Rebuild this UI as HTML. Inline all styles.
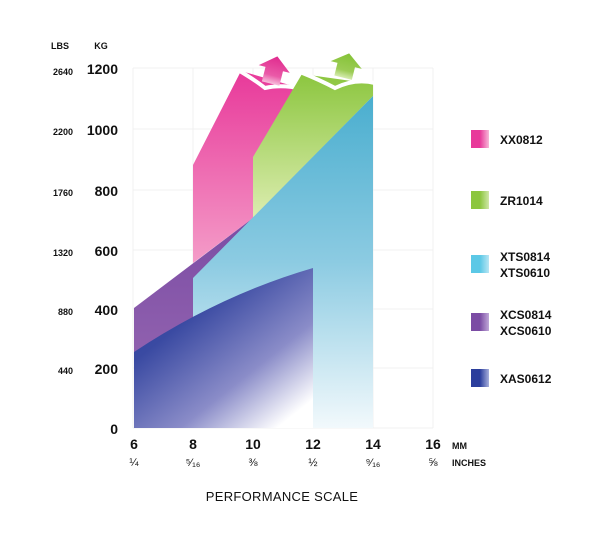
<!DOCTYPE html>
<html><head><meta charset="utf-8"><style>
html,body{margin:0;padding:0;background:#fff;}
svg{display:block;font-family:"Liberation Sans",sans-serif;}
</style></head><body>
<svg width="612" height="539" viewBox="0 0 612 539">
<defs>
<linearGradient id="gb" x1="0" y1="0.1" x2="0.8" y2="1"><stop offset="0" stop-color="#2b3e9c"/><stop offset="0.3" stop-color="#3a4aa2"/><stop offset="0.7" stop-color="#8a8cc8"/><stop offset="1" stop-color="#ffffff"/></linearGradient>
<linearGradient id="gt" x1="0" y1="0" x2="0" y2="1"><stop offset="0" stop-color="#4aaecf"/><stop offset="0.5" stop-color="#8ccbe2"/><stop offset="1" stop-color="#f2f9fc"/></linearGradient>
<linearGradient id="gp" x1="0" y1="0" x2="0" y2="1"><stop offset="0" stop-color="#7b4ca4"/><stop offset="1" stop-color="#9b6cb4"/></linearGradient>
<linearGradient id="gk" x1="0" y1="0" x2="0" y2="1"><stop offset="0" stop-color="#e8399a"/><stop offset="1" stop-color="#f49cc8"/></linearGradient>
<linearGradient id="gg" x1="0" y1="0" x2="0" y2="1"><stop offset="0" stop-color="#8cc63f"/><stop offset="1" stop-color="#dcedb0"/></linearGradient>
<linearGradient id="ak" x1="0" y1="0" x2="0" y2="1"><stop offset="0" stop-color="#e02a8e"/><stop offset="0.7" stop-color="#ea5aa8"/><stop offset="1" stop-color="#f7c0dc"/></linearGradient>
<linearGradient id="ag" x1="0" y1="0" x2="0" y2="1"><stop offset="0" stop-color="#84c236"/><stop offset="0.7" stop-color="#9ccc55"/><stop offset="1" stop-color="#d6ecb0"/></linearGradient>
<linearGradient id="lk" x1="0" x2="1"><stop offset="0.5" stop-color="#e8399a"/><stop offset="1" stop-color="#f7b8d8"/></linearGradient>
<linearGradient id="lg" x1="0" x2="1"><stop offset="0.5" stop-color="#8cc63f"/><stop offset="1" stop-color="#d0e8a8"/></linearGradient>
<linearGradient id="lt" x1="0" x2="1"><stop offset="0.5" stop-color="#5bc8e6"/><stop offset="1" stop-color="#b8e6f4"/></linearGradient>
<linearGradient id="lp" x1="0" x2="1"><stop offset="0.5" stop-color="#7b4ca4"/><stop offset="1" stop-color="#c0a8d8"/></linearGradient>
<linearGradient id="lb" x1="0" x2="1"><stop offset="0.5" stop-color="#2b3e9c"/><stop offset="1" stop-color="#a8b0dc"/></linearGradient>
</defs>
<g stroke="#f0f0f0" stroke-width="1">
<line x1="133" y1="68" x2="433" y2="68"/><line x1="133" y1="129" x2="433" y2="129"/><line x1="133" y1="190" x2="433" y2="190"/><line x1="133" y1="250" x2="433" y2="250"/><line x1="133" y1="309" x2="433" y2="309"/><line x1="133" y1="368" x2="433" y2="368"/><line x1="133" y1="428" x2="433" y2="428"/>
<line x1="133" y1="68" x2="133" y2="428"/><line x1="193" y1="68" x2="193" y2="428"/><line x1="253" y1="68" x2="253" y2="428"/><line x1="313" y1="68" x2="313" y2="428"/><line x1="373" y1="68" x2="373" y2="428"/><line x1="433" y1="68" x2="433" y2="428"/>
</g>
<polygon points="193,165 241,71 300,88 300,230 253,218 193,263" fill="url(#gk)"/>
<path d="M238,70 Q255,80 265,88 Q282,84 302,89" fill="none" stroke="#fff" stroke-width="4"/>
<polygon points="253,157 302,74 373,84 373,96 253,218" fill="url(#gg)"/>
<path d="M300,72 Q320,80 335,88 Q355,78 375,83" fill="none" stroke="#fff" stroke-width="4"/>
<g transform="rotate(14 274 70)"><polygon points="274,56 290,69 283,69 283,84 265,84 265,69 258,69" fill="url(#ak)"/></g>
<g transform="rotate(14 346 66)"><polygon points="346,53 362,65 355,65 355,78 337,78 337,65 330,65" fill="url(#ag)"/></g>
<polygon points="134,308 253,218 253,428 134,428" fill="url(#gp)"/>
<polygon points="193,278 373,96 373,428 193,428" fill="url(#gt)"/>
<path d="M134,352 Q220,295 313,268 L313,428 L134,428 Z" fill="url(#gb)"/>
<g font-weight="bold" fill="#111">
<text x="60" y="49" font-size="9" text-anchor="middle">LBS</text><text x="101" y="49" font-size="9" text-anchor="middle">KG</text>
<g font-size="9" text-anchor="end"><text x="73" y="75">2640</text><text x="73" y="135">2200</text><text x="73" y="196">1760</text><text x="73" y="256">1320</text><text x="73" y="315">880</text><text x="73" y="374">440</text></g>
<g font-size="14" text-anchor="end"><text x="118" y="74">1200</text><text x="118" y="135">1000</text><text x="118" y="196">800</text><text x="118" y="256">600</text><text x="118" y="315">400</text><text x="118" y="374">200</text><text x="118" y="434">0</text></g>
<g font-size="14" text-anchor="middle"><text x="134" y="449">6</text><text x="193" y="449">8</text><text x="253" y="449">10</text><text x="313" y="449">12</text><text x="373" y="449">14</text><text x="433" y="449">16</text></g>
<text x="452" y="449" font-size="9">MM</text>
<g font-size="11" font-weight="normal" text-anchor="middle"><text x="134" y="466">¼</text><text x="193" y="466">⁵⁄₁₆</text><text x="253" y="466">⅜</text><text x="313" y="466">½</text><text x="373" y="466">⁹⁄₁₆</text><text x="433" y="466">⅝</text></g>
<text x="452" y="466" font-size="9">INCHES</text>
<text x="282" y="501" font-size="13" font-weight="normal" text-anchor="middle" letter-spacing="0.3">PERFORMANCE SCALE</text>
<rect x="471" y="130" width="18" height="18" fill="url(#lk)"/><text x="500" y="144" font-size="12">XX0812</text>
<rect x="471" y="191" width="18" height="18" fill="url(#lg)"/><text x="500" y="205" font-size="12">ZR1014</text>
<rect x="471" y="255" width="18" height="18" fill="url(#lt)"/><text x="500" y="261" font-size="12">XTS0814</text><text x="500" y="277" font-size="12">XTS0610</text>
<rect x="471" y="313" width="18" height="18" fill="url(#lp)"/><text x="500" y="319" font-size="12">XCS0814</text><text x="500" y="335" font-size="12">XCS0610</text>
<rect x="471" y="369" width="18" height="18" fill="url(#lb)"/><text x="500" y="383" font-size="12">XAS0612</text>
</g>
</svg>
</body></html>
